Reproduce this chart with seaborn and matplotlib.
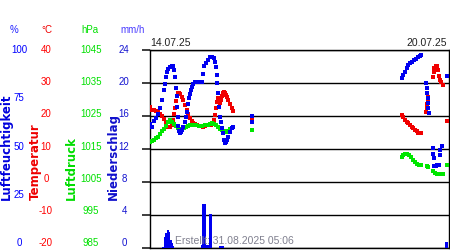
import matplotlib
matplotlib.use('Agg')
import matplotlib.pyplot as plt
import seaborn as sns
import pandas as pd

sns.set_theme(style='white')
plt.rcParams['font.family'] = ['Liberation Sans', 'DejaVu Sans']

# ---------------- data (time in hours since 14.07.25 00:00) ----------------
hum_t = [0.0, 1.1, 2.2, 3.4, 4.5, 5.6, 6.7, 7.9, 8.4, 9.0, 9.6, 10.1, 11.2, 12.4, 12.9,
         13.5, 14.0, 14.6, 14.9, 15.2, 15.5, 15.7, 16.3, 16.9, 17.4, 18.0, 18.5, 19.7, 20.2,
         20.8, 21.4, 21.9, 22.5, 23.0, 23.6, 24.2, 25.3, 27.0, 28.1, 29.2, 29.8, 30.3, 31.5,
         32.6, 33.7, 34.8, 36.0, 36.5, 37.1, 37.4, 37.6, 38.2, 38.8, 39.3, 39.9, 40.5, 41.0,
         41.6, 42.1, 42.7, 43.3, 43.8, 45.0, 46.1, 46.6, 57.2, 57.3,
         141.6, 142.2, 143.3, 144.4, 145.0, 146.1, 147.2, 148.3, 149.5, 150.6, 151.7, 152.3,
         155.1, 155.4, 155.7, 156.0, 156.2, 156.3, 156.5,
         159.1, 159.2, 159.3, 159.4, 160.1, 160.7, 161.5, 162.4, 163.0, 163.1, 164.1, 166.9]
hum_v = [62.6, 61.1, 64.1, 65.7, 67.7, 70.7, 74.7, 79.8, 82.8, 86.4, 88.9, 90.4, 91.4, 91.9, 91.9,
         89.9, 86.4, 80.8, 76.8, 71.2, 66.2, 61.6, 59.1, 58.1, 58.6, 59.6, 61.1, 63.6, 66.2,
         68.7, 72.7, 75.8, 77.8, 79.8, 81.3, 82.8, 83.8, 83.8, 83.8, 83.8, 87.9, 91.9, 93.4,
         94.9, 96.5, 96.5, 96.0, 93.9, 91.4, 87.4, 83.3, 78.3, 71.2, 66.2, 63.6, 60.6, 58.1,
         54.5, 53.0, 53.5, 54.5, 56.1, 58.6, 60.6, 61.1, 66.7, 63.6,
         85.9, 87.4, 88.9, 90.9, 92.4, 93.4, 93.9, 94.9, 95.5, 96.5, 97.0, 97.5,
         83.3, 80.8, 78.3, 75.8, 73.2, 70.7, 68.2,
         50.5, 47.5, 45.5, 41.4, 41.4, 41.4, 41.9, 41.9, 47.0, 49.5, 51.5, 86.9]

temp_t = [0.0, 1.1, 2.2, 3.4, 4.5, 5.6, 6.7, 7.9, 9.0, 10.1, 11.2, 12.4, 12.9, 13.5, 14.0,
          14.6, 15.2, 15.7, 16.3, 16.9, 18.0, 18.5, 19.7, 20.8, 21.4, 22.5, 23.6, 24.2, 25.3,
          26.4, 27.5, 28.7, 29.8, 30.9, 32.0, 33.2, 34.3, 35.4, 36.0, 36.5, 37.1, 37.6, 38.2,
          38.8, 39.3, 39.9, 40.5, 41.0, 41.6, 42.1, 42.7, 43.3, 43.8, 45.0, 46.1, 46.6, 57.3,
          141.6, 142.2, 143.3, 144.4, 145.0, 146.1, 147.2, 147.8, 148.9, 150.0, 150.6, 151.7, 152.3,
          155.1, 155.4, 155.7, 156.0, 156.2,
          159.0, 159.3, 159.6, 160.7, 161.3, 161.8, 162.4, 163.0, 163.5, 164.6, 166.9]
temp_v = [22.7, 21.8, 21.8, 21.5, 21.2, 20.6, 20.0, 19.1, 17.9, 16.7, 16.7, 17.3, 18.8, 20.6, 22.4,
          24.5, 26.1, 27.0, 27.0, 26.7, 25.8, 24.8, 23.3, 21.8, 20.6, 19.4, 18.5, 17.9, 17.6,
          17.3, 17.0, 17.0, 16.7, 17.0, 17.3, 17.3, 17.3, 17.6, 18.8, 20.3, 22.4, 24.2, 25.5,
          24.8, 23.9, 24.8, 26.1, 27.0, 27.3, 27.0, 26.4, 25.8, 24.8, 23.6, 22.4, 21.5, 19.4,
          20.3, 19.7, 18.8, 18.2, 17.9, 17.3, 16.7, 16.4, 15.8, 15.5, 14.8, 14.8, 14.8,
          21.2, 22.4, 23.6, 24.8, 25.8,
          31.8, 33.3, 34.5, 35.2, 35.2, 33.9, 32.1, 30.9, 30.3, 29.4, 18.5]

pres_t = [0.0, 1.1, 2.2, 3.4, 4.5, 5.6, 6.7, 7.9, 9.0, 10.1, 11.2, 12.4, 13.5, 14.6, 15.7,
          16.9, 18.0, 19.1, 20.2, 21.4, 22.5, 24.2, 25.8, 27.5, 29.2, 30.9, 32.6, 33.7, 34.8,
          36.0, 37.1, 38.2, 39.3, 40.5, 41.6, 42.7, 43.8, 45.0, 46.1, 46.6, 57.3,
          141.6, 142.2, 143.3, 144.4, 145.5, 146.7, 147.8, 148.9, 150.0, 151.1, 152.3,
          155.7, 156.2, 159.1, 160.2, 161.3, 162.4, 163.5, 164.6, 166.9]
pres_v = [1017.1, 1017.4, 1017.7, 1018.3, 1018.6, 1019.5, 1020.5, 1021.1, 1022.0, 1023.2, 1023.8,
          1023.2, 1022.6, 1022.0, 1021.4, 1021.1, 1021.1, 1021.4, 1021.7, 1022.0, 1022.3, 1022.3,
          1022.3, 1022.0, 1022.0, 1022.3, 1022.3, 1022.6, 1022.9, 1022.6, 1022.3, 1021.7, 1021.1,
          1020.8, 1020.5, 1020.2, 1020.5, 1021.1, 1021.4, 1021.7, 1020.8,
          1012.6, 1013.2, 1013.5, 1013.5, 1013.2, 1012.6, 1011.7, 1011.1, 1010.5, 1010.2, 1010.2,
          1009.8, 1009.5, 1008.3, 1007.7, 1007.4, 1007.4, 1007.4, 1007.4, 1010.2]

rain_t = [7.3, 7.9, 8.4, 9.0, 9.6, 10.1, 10.7, 11.2, 11.8, 12.4, 12.9,
          28.7, 29.2, 29.8, 30.3, 30.9, 31.5, 32.0, 32.6, 33.2, 33.7, 34.3, 34.8,
          39.3, 39.9, 40.5, 41.0, 166.3, 166.9, 167.4]
rain_v = [0.1, 0.7, 1.3, 1.8, 2.2, 2.2, 1.9, 1.5, 1.0, 0.6, 0.2,
          0.4, 0.4, 5.3, 5.3, 5.3, 0.4, 0.4, 0.4, 4.1, 4.1, 4.1, 0.3,
          0.2, 0.2, 0.2, 0.2, 0.7, 0.7, 0.7]

unit_labels = ['%', '°C', 'hPa', 'mm/h']
hum_labels = ['100', '75', '50', '25', '0']
temp_labels = ['40', '30', '20', '10', '0', '-10', '-20']
pres_labels = ['1045', '1035', '1025', '1015', '1005', '995', '985']
rain_labels = ['24', '20', '16', '12', '8', '4', '0']
titles = ['Luftfeuchtigkeit', 'Temperatur', 'Luftdruck', 'Niederschlag']
date_left = '14.07.25'
date_right = '20.07.25'
created = 'Erstellt: 31.08.2025 05:06'

# ---------------- styling ----------------
W, H = 450, 250
C_HUM = '#0000f0'
C_TEMP = '#f00000'
C_PRES = '#00e600'
C_RAIN = '#0000f0'

fig = plt.figure(figsize=(W / 100, H / 100), dpi=100)
fig.patch.set_facecolor('white')
ax = fig.add_axes([150 / W, 2 / H, 299 / W, 198 / H])
ax.set_facecolor('white')
ax.set_xlim(0, 168)
ax.set_ylim(-20, 40)
ax.set_yticks([-20, -10, 0, 10, 20, 30, 40])
ax.grid(axis='y', color='black', linewidth=1)
ax.grid(axis='x', visible=False)
ax.tick_params(left=False, bottom=False, labelleft=False, labelbottom=False)
for s in ax.spines.values():
    s.set_visible(True)
    s.set_color('black')
    s.set_linewidth(1)

def twin(lo, hi):
    t = ax.twinx()
    t.set_ylim(lo, hi)
    t.set_xlim(0, 168)
    t.grid(False)
    t.tick_params(right=False, labelright=False, left=False, bottom=False, labelbottom=False)
    t.set_ylabel('')
    for s in t.spines.values():
        s.set_visible(False)
    return t

ax_r = twin(0, 24)
ax_p = twin(985, 1045)
ax_h = twin(0, 100)

ax_r.bar(rain_t, rain_v, width=0.62, color=C_RAIN, linewidth=0)

df_p = pd.DataFrame({'t': pres_t, 'v': pres_v})
df_t = pd.DataFrame({'t': temp_t, 'v': temp_v})
df_h = pd.DataFrame({'t': hum_t, 'v': hum_v})
MS = 7
sns.scatterplot(data=df_p, x='t', y='v', ax=ax_p, marker='s', s=MS, color=C_PRES, linewidth=0)
sns.scatterplot(data=df_t, x='t', y='v', ax=ax, marker='s', s=MS, color=C_TEMP, linewidth=0, zorder=3)
sns.scatterplot(data=df_h, x='t', y='v', ax=ax_h, marker='s', s=MS, color=C_HUM, linewidth=0)
for a, lo, hi in [(ax, -20, 40), (ax_r, 0, 24), (ax_p, 985, 1045), (ax_h, 0, 100)]:
    a.set_xlabel('')
    a.set_ylabel('')
    a.set_xlim(0, 168)
    a.set_ylim(lo, hi)

def ftext(x, y, s, **kw):
    fig.text(x / W, 1 - y / H, s, **kw)

FS = 7
# unit header
for x, s, c in zip([14, 47, 90, 133], unit_labels, ['#2020ff', C_TEMP, '#00e000', '#4a3cff']):
    ftext(x, 30, s, color=c, fontsize=FS, ha='center', va='center')

# tick label columns (drawn between y=50 and y=243)
def column(labels, x, color):
    n = len(labels)
    for i, s in enumerate(labels):
        y = 50 + i * (243 - 50) / (n - 1)
        ftext(x, y, s, color=color, fontsize=FS, ha='center', va='center')

column(hum_labels, 19, '#0000ff')
column(temp_labels, 46, '#ff0000')
column(pres_labels, 91, '#00e000')
column(rain_labels, 124, '#1414d0')

# rotated axis titles
for x, s, c in zip([6, 35, 71.5, 113], titles, ['#0000dd', '#ee0000', '#00dd00', '#1010cc']):
    ftext(x, 200, s, color=c, fontsize=8.5, fontweight='bold', family='DejaVu Sans',
          rotation=90, ha='center', va='bottom')

# dates
ftext(150, 43.5, date_left, color='#202020', fontsize=7.5, ha='left', va='center')
ftext(447, 43.5, date_right, color='#202020', fontsize=7.5, ha='right', va='center')

# created stamp
ftext(175, 241, created, color='#80808f', fontsize=7.5, ha='left', va='center', zorder=10)

fig.savefig('out.png', dpi=100, facecolor='white')
